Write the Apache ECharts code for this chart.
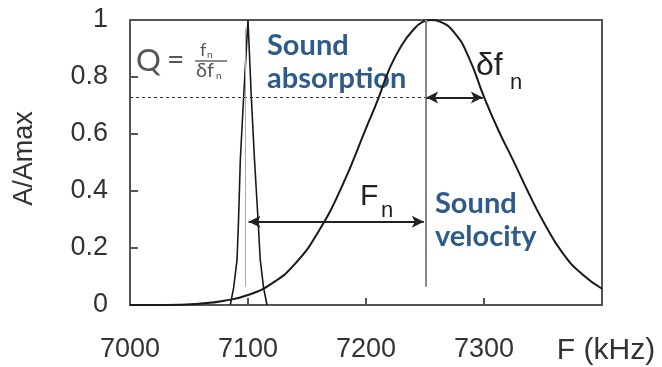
<!DOCTYPE html>
<html>
<head>
<meta charset="utf-8">
<script src="https://cdn.jsdelivr.net/npm/echarts@6/dist/echarts.min.js"></script>
<style>
  html, body { margin: 0; padding: 0; background: #fff; }
  #chart { width: 662px; height: 367px; }
</style>
</head>
<body>
<div id="chart"></div>
<script>
// broad resonance (sound velocity peak)
const broadF = [7000, 7030, 7060, 7080, 7100, 7120, 7140, 7160, 7180, 7200, 7210, 7220, 7230, 7240, 7248, 7255, 7262, 7275, 7287, 7300, 7312, 7325, 7337, 7350, 7367, 7384, 7400]
const broadA = [0, 0, 0.005, 0.015, 0.035, 0.075, 0.145, 0.26, 0.42, 0.62, 0.72, 0.83, 0.91, 0.965, 0.993, 1.0, 0.995, 0.955, 0.87, 0.73, 0.615, 0.505, 0.4, 0.295, 0.18, 0.105, 0.057]

// narrow resonance (sound absorption peak)
const narrowF = [7085, 7087.8, 7090.7, 7092, 7093.5, 7096.3, 7100, 7102.8, 7105.5, 7108.5, 7110.4, 7113.2, 7116.1]
const narrowA = [0, 0.06, 0.158, 0.30, 0.51, 0.73, 1.0, 0.73, 0.51, 0.30, 0.158, 0.06, 0]

const xTicks = [7000, 7100, 7200, 7300, 7400]
const xTickLabels = ['7000', '7100', '7200', '7300', 'F (kHz)']
const yTickLabels = ['0', '0.2', '0.4', '0.6', '0.8', '1']

const halfLevel = 0.728   // dotted level used for the width
const fPeak = 7251        // sound velocity line
const fAbs = 7098         // sound absorption line
const fnArrowY = 0.292

const chart = echarts.init(document.getElementById('chart'))

const numFont = 'Liberation Sans, Arial, sans-serif'
const blue = '#2e5a8c'

const option = {
  animation: false,
  grid: {
    left: 130,
    right: 60,
    top: 20,
    bottom: 62,
    show: true,
    borderColor: '#555',
    borderWidth: 2
  },
  xAxis: {
    type: 'value',
    min: 7000,
    max: 7400,
    interval: 100,
    axisLine: { show: false },
    axisTick: { show: true, inside: true, length: 7, lineStyle: { color: '#555', width: 2 } },
    splitLine: { show: false },
    axisLabel: {
      margin: 31,
      color: '#333',
      fontFamily: numFont,
      fontSize: 27,
      formatter: function(v) {
        const i = xTicks.indexOf(v)
        if (i === xTicks.length - 1) return '{u|' + xTickLabels[i] + '}'
        return i >= 0 ? xTickLabels[i] : ''
      },
      rich: {
        u: { fontFamily: numFont, fontSize: 30, color: '#333', padding: [0, 0, 0, 8] }
      }
    }
  },
  yAxis: {
    type: 'value',
    min: 0,
    max: 1,
    interval: 0.2,
    name: 'A/Amax',
    nameLocation: 'middle',
    nameGap: 92,
    nameTextStyle: { fontFamily: numFont, fontSize: 27, color: '#333', padding: [0, 0, 0, 8] },
    axisLine: { show: false },
    axisTick: { show: true, inside: true, length: 8, lineStyle: { color: '#555', width: 2 } },
    splitLine: { show: false },
    axisLabel: {
      margin: 22,
      color: '#333',
      fontFamily: numFont,
      fontSize: 27,
      formatter: function(v) {
        return yTickLabels[Math.round(v * 5)]
      }
    }
  },
  series: [
    {
      name: 'velocity',
      type: 'line',
      data: broadF.map((f, i) => [f, broadA[i]]),
      smooth: 0.5,
      symbol: 'none',
      lineStyle: { color: '#1a1a1a', width: 2 },
      markLine: {
        silent: true,
        symbol: ['none', 'none'],
        label: { show: false },
        data: [
          [
            { coord: [7000, halfLevel], lineStyle: { color: '#333', width: 1.2, type: [3, 3] } },
            { coord: [fPeak, halfLevel] }
          ],
          [
            { coord: [fPeak, 0.064], lineStyle: { color: '#888', width: 2, type: 'solid' } },
            { coord: [fPeak, 1] }
          ],
          [
            { coord: [fAbs, 0.063], lineStyle: { color: '#aaa', width: 1, type: 'solid' } },
            { coord: [fAbs, 0.97] }
          ],
          [
            { coord: [fPeak, halfLevel], symbol: 'arrow', symbolSize: [9, 12], lineStyle: { color: '#222', width: 2, type: 'solid' } },
            { coord: [7299, halfLevel], symbol: 'arrow', symbolSize: [9, 12] }
          ],
          [
            { coord: [7100.5, fnArrowY], symbol: 'arrow', symbolSize: [9, 12], lineStyle: { color: '#222', width: 2, type: 'solid' } },
            { coord: [fPeak - 2, fnArrowY], symbol: 'arrow', symbolSize: [9, 12] }
          ]
        ]
      }
    },
    {
      name: 'absorption',
      type: 'line',
      data: narrowF.map((f, i) => [f, narrowA[i]]),
      smooth: false,
      symbol: 'none',
      lineStyle: { color: '#1a1a1a', width: 1.6 }
    }
  ],
  graphic: [
    // quality factor formula
    { type: 'text', x: 136, y: 45, style: { text: 'Q', font: '31px Lato, sans-serif', fill: '#555' } },
    { type: 'text', x: 167, y: 45, style: { text: '=', font: '30px Lato, sans-serif', fill: '#555' } },
    { type: 'text', x: 200, y: 41, style: { text: 'f', font: '18px Lato, sans-serif', fill: '#555' } },
    { type: 'text', x: 207, y: 50, style: { text: 'n', font: '10px Lato, sans-serif', fill: '#555' } },
    { type: 'line', shape: { x1: 195, y1: 61, x2: 227, y2: 61 }, style: { stroke: '#666', lineWidth: 1.5 } },
    { type: 'text', x: 196, y: 61, style: { text: 'δf', font: '20px Lato, sans-serif', fill: '#555' } },
    { type: 'text', x: 216, y: 71, style: { text: 'n', font: '10px Lato, sans-serif', fill: '#555' } },

    // blue labels
    { type: 'text', x: 267, y: 31, style: { text: 'Sound', font: 'bold 29px Lato, sans-serif', fill: blue } },
    { type: 'text', x: 267, y: 64, style: { text: 'absorption', font: 'bold 29px Lato, sans-serif', fill: blue } },
    { type: 'text', x: 435, y: 189, style: { text: 'Sound', font: 'bold 29px Lato, sans-serif', fill: blue } },
    { type: 'text', x: 435, y: 222, style: { text: 'velocity', font: 'bold 29px Lato, sans-serif', fill: blue } },

    // width and spacing labels
    { type: 'text', x: 476, y: 50, style: { text: 'δf', font: '32px Liberation Sans, Arial, sans-serif', fill: '#222' } },
    { type: 'text', x: 510, y: 72, style: { text: 'n', font: '22px Liberation Sans, Arial, sans-serif', fill: '#222' } },
    { type: 'text', x: 360, y: 182, style: { text: 'F', font: '30px Liberation Sans, Arial, sans-serif', fill: '#222' } },
    { type: 'text', x: 381, y: 200, style: { text: 'n', font: '22px Liberation Sans, Arial, sans-serif', fill: '#222' } }
  ]
}

chart.setOption(option)
</script>
</body>
</html>
